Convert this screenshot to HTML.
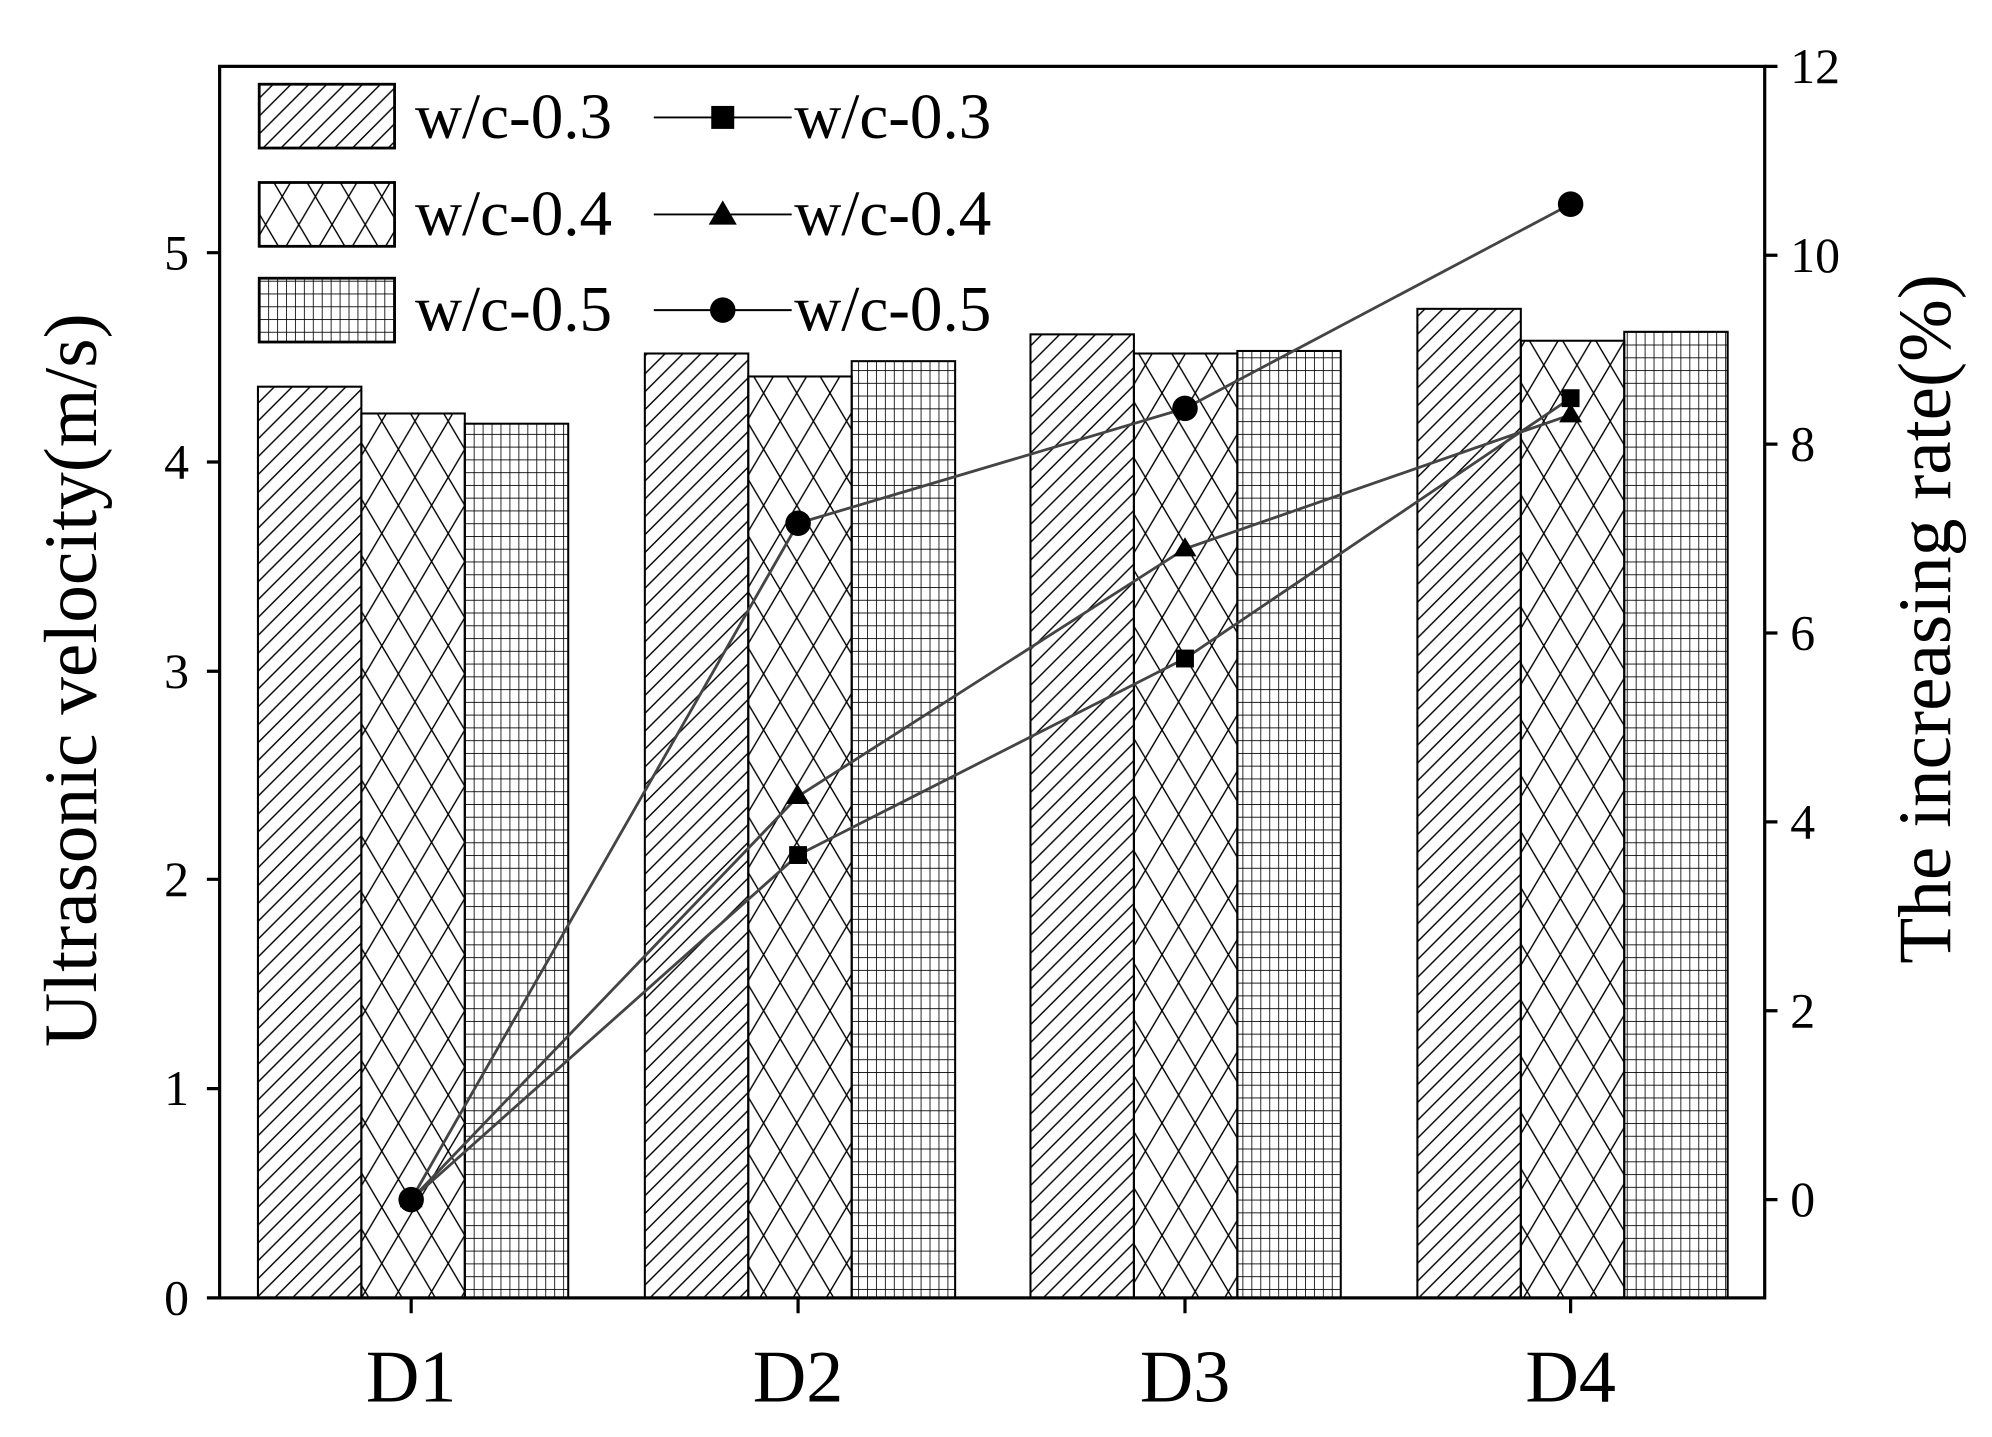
<!DOCTYPE html>
<html><head><meta charset="utf-8"><style>html,body{margin:0;padding:0;background:#fff}svg{display:block}</style></head>
<body>
<svg width="1992" height="1437" viewBox="0 0 1560 1126" preserveAspectRatio="none" xmlns="http://www.w3.org/2000/svg" font-family="Liberation Serif, serif">
<defs>
<pattern id="diag" patternUnits="userSpaceOnUse" width="14" height="14">
<path d="M-2,16 L16,-2 M-9,9 L9,-9 M5,23 L23,5" stroke="#000" stroke-width="1.1"/>
</pattern>
<pattern id="cross" patternUnits="userSpaceOnUse" width="26" height="44">
<path d="M0,0 L26,44 M26,0 L0,44 M-13,22 L0,44 M-13,22 L0,0 M39,22 L26,44 M39,22 L26,0" stroke="#000" stroke-width="1.1"/>
</pattern>
<pattern id="grid" patternUnits="userSpaceOnUse" width="7" height="10">
<path d="M0,0 L0,10 M0,0 L7,0" stroke="#000" stroke-width="1.3"/>
</pattern>
</defs>
<rect width="1560" height="1126" fill="#fff"/>
<g stroke="#000" stroke-width="1.6">
<rect x="202" y="303" width="81" height="714" fill="url(#diag)"/>
<rect x="283" y="324" width="81" height="693" fill="url(#cross)"/>
<rect x="364" y="332" width="81" height="685" fill="url(#grid)"/>
<rect x="505" y="277" width="81" height="740" fill="url(#diag)"/>
<rect x="586" y="295" width="81" height="722" fill="url(#cross)"/>
<rect x="667" y="283" width="81" height="734" fill="url(#grid)"/>
<rect x="807" y="262" width="81" height="755" fill="url(#diag)"/>
<rect x="888" y="277" width="81" height="740" fill="url(#cross)"/>
<rect x="969" y="275" width="81" height="742" fill="url(#grid)"/>
<rect x="1110" y="242" width="81" height="775" fill="url(#diag)"/>
<rect x="1191" y="267" width="81" height="750" fill="url(#cross)"/>
<rect x="1272" y="260" width="81" height="757" fill="url(#grid)"/>
</g>
<g stroke="#444" stroke-width="2.2" fill="none">
<polyline points="322,940 625,670 928,516 1230,312"/>
<polyline points="322,940 625,624 928,430 1230,325"/>
<polyline points="322,940 625,410 928,320 1230,160"/>
</g>
<g fill="#000">
<rect x="315" y="933" width="14" height="14"/><rect x="618" y="663" width="14" height="14"/><rect x="921" y="509" width="14" height="14"/><rect x="1223" y="305" width="14" height="14"/>
<path d="M322,931 l9,15 h-18z M625,615 l9,15 h-18z M928,421 l9,15 h-18z M1230,316 l9,15 h-18z"/>
<circle cx="322" cy="940" r="10"/><circle cx="625" cy="410" r="10"/><circle cx="928" cy="320" r="10"/><circle cx="1230" cy="160" r="10"/>
</g>
<rect x="172" y="52" width="1210" height="965" fill="none" stroke="#000" stroke-width="2.5"/>
<g stroke="#000" stroke-width="2.5">
<path d="M162,1017h10M162,853h10M162,689h10M162,526h10M162,362h10M162,198h10"/>
<path d="M1382,940h10M1382,792h10M1382,644h10M1382,496h10M1382,348h10M1382,200h10M1382,52h10"/>
<path d="M322,1017v12M625,1017v12M928,1017v12M1230,1017v12"/>
</g>
<g font-size="39" text-anchor="end">
<text x="148" y="1030">0</text><text x="148" y="866">1</text><text x="148" y="702">2</text><text x="148" y="539">3</text><text x="148" y="375">4</text><text x="148" y="211">5</text>
</g>
<g font-size="39" text-anchor="start">
<text x="1402" y="953">0</text><text x="1402" y="805">2</text><text x="1402" y="657">4</text><text x="1402" y="509">6</text><text x="1402" y="361">8</text><text x="1402" y="213">10</text><text x="1402" y="65">12</text>
</g>
<g font-size="58" text-anchor="middle">
<text x="322" y="1098">D1</text><text x="625" y="1098">D2</text><text x="928" y="1098">D3</text><text x="1230" y="1098">D4</text>
</g>
<text transform="translate(75,533) rotate(-90)" font-size="59" text-anchor="middle">Ultrasonic velocity(m/s)</text>
<text transform="translate(1527,485) rotate(-90)" font-size="59" text-anchor="middle">The increasing rate(%)</text>
<g stroke="#000" stroke-width="2.2">
<rect x="203" y="66" width="106" height="50" fill="url(#diag)"/>
<rect x="203" y="143" width="106" height="50" fill="url(#cross)"/>
<rect x="203" y="218" width="106" height="50" fill="url(#grid)"/>
</g>
<g stroke="#000" stroke-width="1.5">
<path d="M512,92h108M512,168h108M512,243h108"/>
</g>
<rect x="557" y="83" width="18" height="18"/>
<path d="M566,157 l11,19 h-22z"/>
<circle cx="566" cy="243" r="10"/>
<g font-size="51">
<text x="325" y="108">w/c-0.3</text><text x="325" y="184">w/c-0.4</text><text x="325" y="259">w/c-0.5</text>
<text x="622" y="108">w/c-0.3</text><text x="622" y="184">w/c-0.4</text><text x="622" y="259">w/c-0.5</text>
</g>
</svg>
</body></html>
